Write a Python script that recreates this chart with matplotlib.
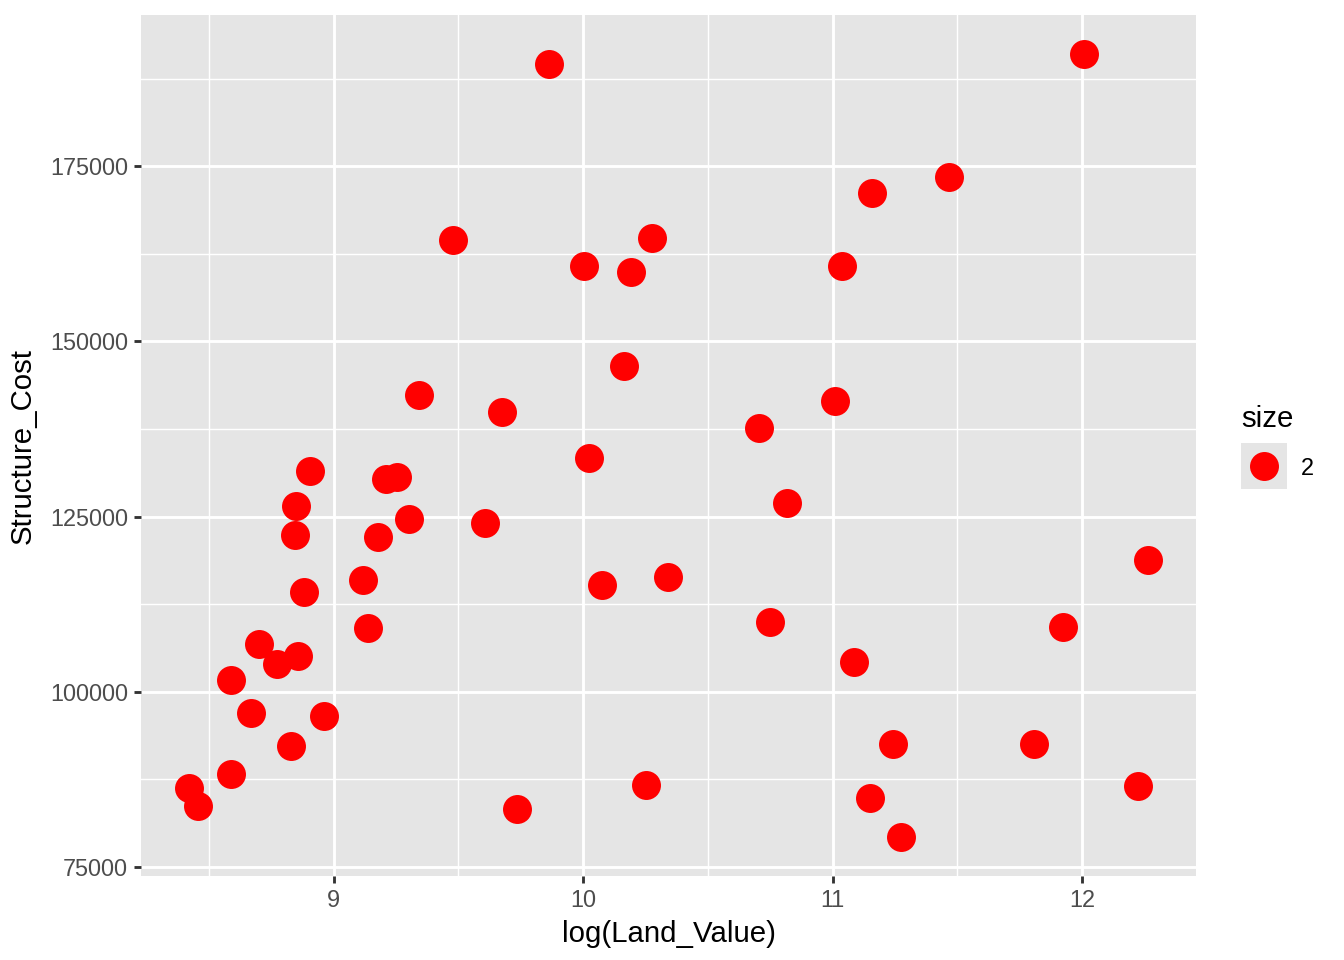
import numpy as np
import matplotlib.pyplot as plt
from matplotlib.ticker import FixedLocator

plt.rcParams['font.family'] = ['Liberation Sans', 'DejaVu Sans']

# values
log_land_value = [9.864, 12.008, 11.468, 11.156, 9.48, 10.276, 10.004, 10.192, 11.036,
                  10.164, 9.344, 9.676, 11.008, 10.704, 10.024, 8.904, 9.21, 9.252,
                  8.848, 10.816, 9.3, 9.608, 8.844, 9.176, 12.264, 9.116, 10.076, 10.34,
                  8.88, 10.748, 11.924, 9.136, 8.7, 8.856, 8.772, 11.084, 8.588, 8.668,
                  8.96, 8.828, 11.24, 11.808, 8.588, 8.42, 8.456, 9.736, 10.252, 12.224,
                  11.148, 11.272]
structure_cost = [189571, 191000, 173429, 171143, 164429, 164714, 160714, 159857, 160714,
                  146429, 142286, 139857, 141429, 137571, 133429, 131571, 130429, 130714,
                  126571, 127000, 124714, 124143, 122429, 122143, 118857, 116000, 115286,
                  116429, 114286, 110000, 109286, 109143, 106857, 105143, 104000, 104286,
                  101714, 97000, 96571, 92286, 92571, 92571, 88286, 86286, 83714, 83286,
                  86714, 86571, 84857, 79286]

x_ticks = [9, 10, 11, 12]
x_minor = [8.5, 9.5, 10.5, 11.5]
y_ticks = [75000, 100000, 125000, 150000, 175000]
y_minor = [87500, 112500, 137500, 162500, 187500]

panel_bg = '#E5E5E5'
point_color = '#FF0000'

fig = plt.figure(figsize=(7, 5), dpi=192)
ax = fig.add_axes([141 / 1344, 1 - 876 / 960, (1196 - 141) / 1344, (876 - 15) / 960])
ax.set_facecolor(panel_bg)

ax.scatter(log_land_value, structure_cost, s=118, color=point_color, linewidths=0, zorder=3)

# ggplot style 5% expansion
def expand(v, f=0.05):
    lo, hi = min(v), max(v)
    d = (hi - lo) * f
    return lo - d, hi + d

ax.set_xlim(*expand(log_land_value))
ax.set_ylim(*expand(structure_cost))

ax.set_xticks(x_ticks)
ax.set_yticks(y_ticks)
ax.set_yticklabels([str(v) for v in y_ticks])
ax.xaxis.set_minor_locator(FixedLocator(x_minor))
ax.yaxis.set_minor_locator(FixedLocator(y_minor))

ax.grid(which='major', color='white', linewidth=1.07)
ax.grid(which='minor', color='white', linewidth=0.53)
ax.set_axisbelow(True)
for s in ax.spines.values():
    s.set_visible(False)

ax.tick_params(which='major', length=2.75, width=1.07, color='#333333',
               labelsize=8.8, labelcolor='#4D4D4D', pad=2.2)
ax.tick_params(which='minor', length=0)

ax.set_xlabel('log(Land_Value)', fontsize=11, color='black', labelpad=3)
ax.set_ylabel('Structure_Cost', fontsize=11, color='black', labelpad=5)

# legend
fig.text(1241 / 1344, 1 - 427 / 960, 'size', fontsize=11, ha='left', va='baseline')
kax = fig.add_axes([1241 / 1344, 1 - 489 / 960, 46 / 1344, 46 / 960])
kax.set_facecolor(panel_bg)
kax.scatter([0], [0], s=118, color=point_color, linewidths=0)
kax.set_xlim(-1, 1)
kax.set_ylim(-1, 1)
kax.set_xticks([])
kax.set_yticks([])
for s in kax.spines.values():
    s.set_visible(False)
fig.text(1301 / 1344, 1 - 468 / 960, '2', fontsize=8.8, ha='left', va='center')

fig.savefig('out.png', dpi=192)
